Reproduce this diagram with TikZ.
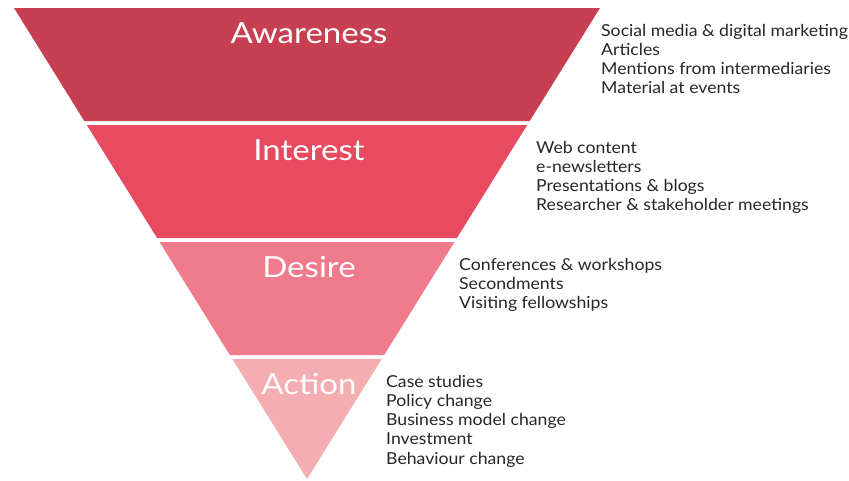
\documentclass[tikz,border=0pt]{standalone}
\usepackage{fontspec}
\setmainfont{Lato}[FakeStretch=1.07]
\newfontfamily\stagefont{Lato}[FakeStretch=1.14]

\definecolor{awarecol}{HTML}{C64052}
\definecolor{interestcol}{HTML}{E84A60}
\definecolor{desirecol}{HTML}{EF7B8C}
\definecolor{actioncol}{HTML}{F4ADB0}

\begin{document}
\begin{tikzpicture}[x=1pt,y=-1pt,
        stage/.style={text=white,font=\stagefont\fontsize{29}{29}\selectfont,anchor=base,inner sep=0pt},
        items/.style={text=black!85,font=\fontsize{16.5}{19.3}\selectfont,align=left,anchor=base west,inner sep=0pt}]
        \useasboundingbox(0,0)rectangle(849,480);

        \foreach \i/\c in {0/awarecol,1/interestcol,2/desirecol,3/actioncol}{
            \pgfmathsetmacro\ya{8+117*\i}
            \pgfmathsetmacro\yb{ifthenelse(\i==3,479,121+117*\i)}
            \pgfmathsetmacro\wa{(479-\ya)*0.6221}
            \pgfmathsetmacro\wb{(479-\yb)*0.6221}
            \fill[\c](307-\wa,\ya)--(307+\wa,\ya)--(307+\wb,\yb)--(307-\wb,\yb)--cycle;
        }

        \node[stage](awareness)at(309,43){Awareness};
        \node[stage](interest)at(309,160){Interest};
        \node[stage](desire)at(309,277){Desire};
        \node[stage](action)at(309,394){Action};

        % anchored at the baseline of the last line
        \node[items](awareness-list)at(601,93.9){Social media \& digital marketing\\Articles\\Mentions from intermediaries\\Material at events};
        \node[items](interest-list)at(536,210.9){Web content\\e-newsletters\\Presentations \& blogs\\Researcher \& stakeholder meetings};
        \node[items](desire-list)at(459,308.6){Conferences \& workshops\\Secondments\\Visiting fellowships};
        \node[items](action-list)at(386,464.2){Case studies\\Policy change\\Business model change\\Investment\\Behaviour change};
    \end{tikzpicture}
\end{document}
